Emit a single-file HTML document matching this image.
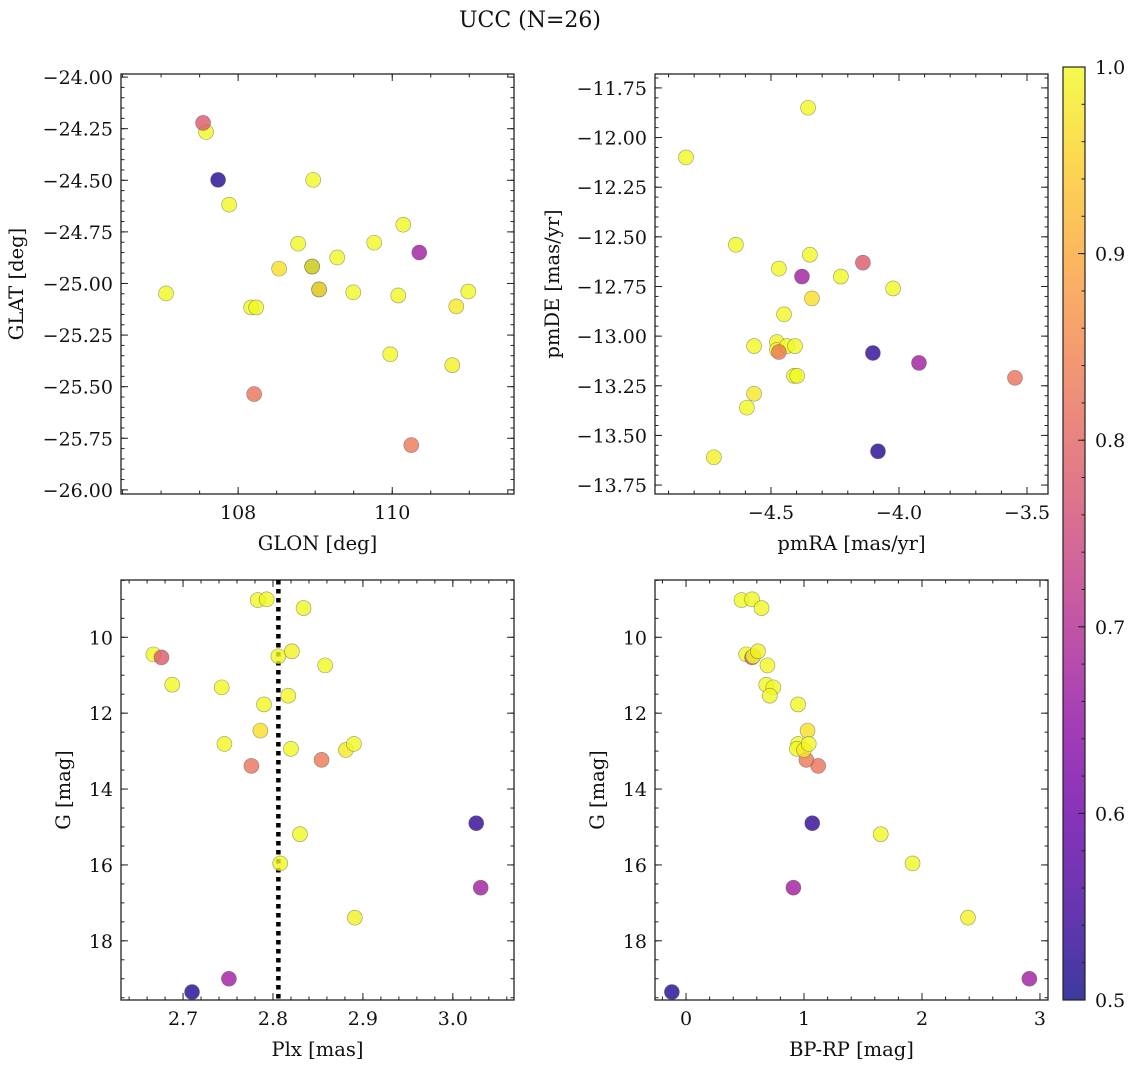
<!DOCTYPE html>
<html><head><meta charset="utf-8"><style>
html,body{margin:0;padding:0;background:#fff;}
svg text{font-family:"DejaVu Serif","Liberation Serif",serif;fill:#111;}
</style></head><body>
<svg id="fig" width="1136" height="1067" viewBox="0 0 1136 1067" xmlns="http://www.w3.org/2000/svg">
<text x="530" y="27" font-size="22" text-anchor="middle">UCC (N=26)</text>
</svg>
<script>
// per-star data (same order in all arrays)
const plx  = [3.026,3.031,2.667,2.676,2.688,2.710,2.751,2.743,2.746,2.776,2.783,2.793,2.790,2.786,2.806,2.808,2.821,2.817,2.820,2.834,2.830,2.858,2.854,2.881,2.890,2.891];
const gmag = [14.9,16.6,10.45,10.53,11.25,19.35,19.0,11.32,12.81,13.39,9.02,9.0,11.77,12.46,10.5,15.96,10.37,11.54,12.94,9.23,15.19,10.74,13.23,12.97,12.81,17.39];
const bprp = [1.07,0.91,0.51,0.56,0.68,-0.12,2.91,0.74,0.95,1.12,0.47,0.56,0.95,1.03,0.57,1.92,0.61,0.71,0.94,0.64,1.65,0.69,1.02,1.00,1.04,2.39];
const prob = [0.53,0.67,1.0,0.78,1.0,0.52,0.67,1.0,1.0,0.82,1.0,1.0,1.0,0.97,1.0,1.0,0.99,1.0,1.0,1.0,1.0,1.0,0.83,0.98,1.0,0.99];
const glon = [108.96,109.05,107.584,107.545,107.883,107.74,110.351,108.974,110.143,108.208,108.779,109.286,109.766,108.532,108.961,107.065,109.052,109.494,110.078,110.987,108.169,108.234,110.247,110.831,109.974,110.779];
const glat = [-24.918,-25.029,-24.266,-24.222,-24.618,-24.498,-24.850,-24.498,-24.715,-25.536,-24.807,-24.874,-24.802,-24.928,-24.918,-25.048,-25.029,-25.043,-25.058,-25.039,-25.116,-25.116,-25.783,-25.111,-25.343,-25.396];
const pmra = [-4.102,-3.922,-4.832,-4.141,-4.637,-4.082,-4.379,-4.355,-4.348,-3.547,-4.469,-4.227,-4.023,-4.340,-4.449,-4.566,-4.477,-4.477,-4.438,-4.406,-4.41,-4.398,-4.469,-4.566,-4.594,-4.723];
const pmde = [-13.085,-13.135,-12.10,-12.63,-12.54,-13.58,-12.70,-11.85,-12.59,-13.21,-12.66,-12.70,-12.76,-12.81,-12.89,-13.05,-13.03,-13.07,-13.05,-13.05,-13.20,-13.20,-13.08,-13.29,-13.36,-13.61];
const plxLine = 2.806;
const cbTicks = [0.5,0.6,0.7,0.8,0.9,1.0];

const NS="http://www.w3.org/2000/svg";
const svg=document.getElementById('fig');
function mk(tag,attrs,parent){const e=document.createElementNS(NS,tag);for(const k in attrs)e.setAttribute(k,attrs[k]);(parent||svg).appendChild(e);return e;}
const stops=[[13,8,135],[65,4,157],[106,0,168],[143,13,164],[177,42,144],[204,71,120],[225,100,98],[242,132,75],[252,166,54],[252,206,37],[240,249,33]];
function plasma(t){t=Math.max(0,Math.min(1,t));const f=t*10,i=Math.min(9,Math.floor(f)),u=f-i;const a=stops[i],b=stops[i+1];
 return 'rgb('+[0,1,2].map(k=>Math.round(a[k]+(b[k]-a[k])*u)).join(',')+')';}
function cnorm(p){return (p-0.5)/0.5;}

function panel(o){
 const g=mk('g',{});
 
 
 const sx=v=>o.x0+(v-o.xmin)/(o.xmax-o.xmin)*(o.x1-o.x0);
 const sy=v=>o.inv? o.y0+(v-o.ymin)/(o.ymax-o.ymin)*(o.y1-o.y0) : o.y1-(v-o.ymin)/(o.ymax-o.ymin)*(o.y1-o.y0);
 const tg=mk('g',{stroke:'#222','stroke-width':1},g);
 function ticksX(step,len,labels,fmt){
  const s=Math.ceil(Math.min(o.xmin,o.xmax)/step-1e-6);
  for(let k=s;k*step<=Math.max(o.xmin,o.xmax)+1e-9;k++){const v=k*step,x=sx(v);
   mk('line',{x1:x,x2:x,y1:o.y1,y2:o.y1-len},tg);mk('line',{x1:x,x2:x,y1:o.y0,y2:o.y0+len},tg);
   if(labels){const t=mk('text',{x:x,y:o.y1+25,'font-size':19,'text-anchor':'middle'},g);t.textContent=fmt(v);
    }}
 }
 function ticksY(step,len,labels,fmt){
  const lo=Math.min(o.ymin,o.ymax),hi=Math.max(o.ymin,o.ymax);
  const s=Math.ceil(lo/step-1e-6);
  for(let k=s;k*step<=hi+1e-9;k++){const v=k*step,y=sy(v);
   mk('line',{x1:o.x0,x2:o.x0+len,y1:y,y2:y},tg);mk('line',{x1:o.x1,x2:o.x1-len,y1:y,y2:y},tg);
   if(labels){const t=mk('text',{x:o.x0-8,y:y+7,'font-size':19,'text-anchor':'end'},g);t.textContent=fmt(v);
    }}
 }
 ticksX(o.xminor,3.5,false);ticksX(o.xmajor,7,true,o.xfmt);
 ticksY(o.yminor,3.5,false);ticksY(o.ymajor,7,true,o.yfmt);
 const fr=mk('rect',{x:o.x0,y:o.y0,width:o.x1-o.x0,height:o.y1-o.y0,fill:'none',stroke:'#222','stroke-width':1.3},g);
 
 const xl=mk('text',{x:(o.x0+o.x1)/2,y:o.y1+56,'font-size':19.5,'text-anchor':'middle'},g);xl.textContent=o.xlabel;
 
 const yl=mk('text',{x:o.ylx,y:(o.y0+o.y1)/2,'font-size':19.5,'text-anchor':'middle',transform:'rotate(-90 '+o.ylx+' '+(o.y0+o.y1)/2+')'},g);yl.textContent=o.ylabel;
 
 const cp='clip'+o.name;const cl=mk('clipPath',{id:cp},g);mk('rect',{x:o.x0,y:o.y0,width:o.x1-o.x0,height:o.y1-o.y0},cl);
 const pg=mk('g',{'clip-path':'url(#'+cp+')'},g);
 if(o.extra)o.extra(pg,sx,sy);
 for(let i=0;i<o.xs.length;i++){
  const c=mk('circle',{cx:sx(o.xs[i]),cy:sy(o.ys[i]),r:7.5,fill:plasma(cnorm(prob[i])),'fill-opacity':0.8,stroke:'#555','stroke-opacity':0.6,'stroke-width':0.6},pg);
  
  
 }
}
const f2=v=>(v<0?'\u2212':'')+Math.abs(v).toFixed(2);
const f1=v=>(v<0?'\u2212':'')+Math.abs(v).toFixed(1);
panel({name:'glon-glat-panel',x0:121,x1:514,y0:74,y1:494,xmin:106.48,xmax:111.58,ymin:-26.02,ymax:-23.985,inv:false,
 xmajor:2,xminor:0.5,ymajor:0.25,yminor:0.05,xfmt:v=>v.toFixed(0),yfmt:f2,xlabel:'GLON [deg]',ylabel:'GLAT [deg]',ylx:23,xs:glon,ys:glat});
panel({name:'pm-panel',x0:655,x1:1048,y0:74,y1:494,xmin:-4.953,xmax:-3.418,ymin:-13.795,ymax:-11.68,inv:false,
 xmajor:0.5,xminor:0.1,ymajor:0.25,yminor:0.05,xfmt:f1,yfmt:f2,xlabel:'pmRA [mas/yr]',ylabel:'pmDE [mas/yr]',ylx:559,xs:pmra,ys:pmde});
panel({name:'plx-g-panel',x0:121,x1:514,y0:580,y1:1000,xmin:2.631,xmax:3.068,ymin:8.49,ymax:19.56,inv:true,
 xmajor:0.1,xminor:0.02,ymajor:2,yminor:0.5,xfmt:v=>v.toFixed(1),yfmt:v=>v.toFixed(0),xlabel:'Plx [mas]',ylabel:'G [mag]',ylx:70,xs:plx,ys:gmag,
 extra:(pg,sx,sy)=>{const l=mk('line',{x1:sx(plxLine),x2:sx(plxLine),y1:580,y2:1000,stroke:'#000','stroke-width':4.5,'stroke-dasharray':'4.5,4.5'},pg);
  }});
panel({name:'cmd-panel',x0:655,x1:1048,y0:580,y1:1000,xmin:-0.263,xmax:3.068,ymin:8.49,ymax:19.56,inv:true,
 xmajor:1,xminor:0.2,ymajor:2,yminor:0.5,xfmt:v=>v.toFixed(0),yfmt:v=>v.toFixed(0),xlabel:'BP-RP [mag]',ylabel:'G [mag]',ylx:604,xs:bprp,ys:gmag});

const cb=mk('g',{});


const defs=mk('defs',{},cb);
const gr=mk('linearGradient',{id:'cbg',x1:0,y1:1,x2:0,y2:0},defs);
for(let k=0;k<=20;k++){mk('stop',{offset:k/20,'stop-color':plasma(k/20),'stop-opacity':0.8},gr);}
const cx0=1063,cx1=1085,cy0=67,cy1=1000;
mk('rect',{x:cx0,y:cy0,width:cx1-cx0,height:cy1-cy0,fill:'url(#cbg)',stroke:'#222','stroke-width':1.2},cb);
const cby=v=>cy1-(v-0.5)/0.5*(cy1-cy0);
for(let k=25;k<=50;k++){const y=cby(k*0.02);mk('line',{x1:cx1,x2:cx1-3.5,y1:y,y2:y,stroke:'#222','stroke-width':1},cb);}
cbTicks.forEach(v=>{const y=cby(v);mk('line',{x1:cx1,x2:cx1-7,y1:y,y2:y,stroke:'#222','stroke-width':1},cb);
 const t=mk('text',{x:cx1+10,y:y+7,'font-size':19},cb);t.textContent=v.toFixed(1);
 
 });
</script>
</body></html>
